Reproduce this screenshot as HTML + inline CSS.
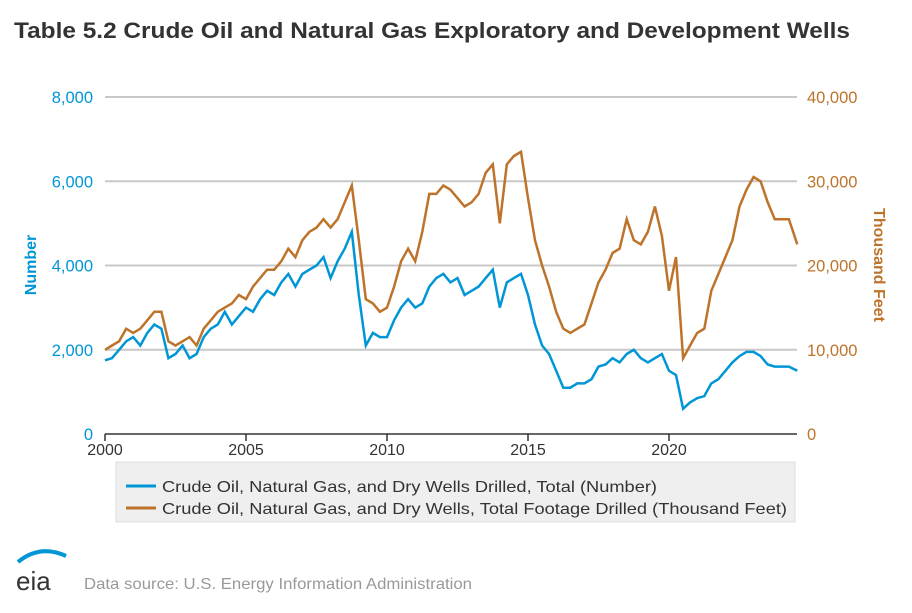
<!DOCTYPE html>
<html><head><meta charset="utf-8"><style>
body{margin:0;background:#fff;font-family:"Liberation Sans",Arial,sans-serif}
</style></head><body>
<svg width="912" height="608" xmlns="http://www.w3.org/2000/svg" font-family="Liberation Sans, Arial, sans-serif">
<text x="14" y="38" font-size="22" font-weight="bold" fill="#333" textLength="836" lengthAdjust="spacingAndGlyphs">Table 5.2 Crude Oil and Natural Gas Exploratory and Development Wells</text>
<g id="grid"></g>
<g id="axes"></g>
<g id="lines"></g>
<text transform="translate(36,265) rotate(-90)" text-anchor="middle" font-size="16" font-weight="bold" fill="#0096d6">Number</text>
<text transform="translate(874,265) rotate(90)" text-anchor="middle" font-size="16" font-weight="bold" fill="#bd732a">Thousand Feet</text>
<g>
<rect x="116" y="462" width="679" height="60" fill="#efefef" stroke="#ddd"/>
<line x1="126" y1="486" x2="156" y2="486" stroke="#0096d6" stroke-width="3"/>
<text x="162" y="492" font-size="16" fill="#333" textLength="495" lengthAdjust="spacingAndGlyphs">Crude Oil, Natural Gas, and Dry Wells Drilled, Total (Number)</text>
<line x1="126" y1="508" x2="156" y2="508" stroke="#bd732a" stroke-width="3"/>
<text x="162" y="514" font-size="16" fill="#333" textLength="625" lengthAdjust="spacingAndGlyphs">Crude Oil, Natural Gas, and Dry Wells, Total Footage Drilled (Thousand Feet)</text>
</g>
<g>
<path d="M18 562 Q40 544 66 556" stroke="#0096d6" stroke-width="4" fill="none"/>
<text x="16" y="590" font-size="26" fill="#333">eia</text>
</g>
<text x="84" y="589" font-size="16" fill="#999" textLength="388" lengthAdjust="spacingAndGlyphs">Data source: U.S. Energy Information Administration</text>
</svg>
<script>
const years=[2000,2000.25,2000.5,2000.75,2001,2001.25,2001.5,2001.75,2002,2002.25,2002.5,2002.75,2003,2003.25,2003.5,2003.75,2004,2004.25,2004.5,2004.75,2005,2005.25,2005.5,2005.75,2006,2006.25,2006.5,2006.75,2007,2007.25,2007.5,2007.75,2008,2008.25,2008.5,2008.75,2009,2009.25,2009.5,2009.75,2010,2010.25,2010.5,2010.75,2011,2011.25,2011.5,2011.75,2012,2012.25,2012.5,2012.75,2013,2013.25,2013.5,2013.75,2014,2014.25,2014.5,2014.75,2015,2015.25,2015.5,2015.75,2016,2016.25,2016.5,2016.75,2017,2017.25,2017.5,2017.75,2018,2018.25,2018.5,2018.75,2019,2019.25,2019.5,2019.75,2020,2020.25,2020.5,2020.75,2021,2021.25,2021.5,2021.75,2022,2022.25,2022.5,2022.75,2023,2023.25,2023.5,2023.75,2024,2024.25,2024.55];
const wells=[1750,1800,2000,2200,2300,2100,2400,2600,2500,1800,1900,2100,1800,1900,2300,2500,2600,2900,2600,2800,3000,2900,3200,3400,3300,3600,3800,3500,3800,3900,4000,4200,3700,4100,4400,4800,3300,2100,2400,2300,2300,2700,3000,3200,3000,3100,3500,3700,3800,3600,3700,3300,3400,3500,3700,3900,3000,3600,3700,3800,3300,2600,2100,1900,1500,1100,1100,1200,1200,1300,1600,1650,1800,1700,1900,2000,1800,1700,1800,1900,1500,1400,600,750,850,900,1200,1300,1500,1700,1850,1950,1950,1850,1650,1600,1600,1600,1500];
const footage=[10000,10500,11000,12500,12000,12500,13500,14500,14500,11000,10500,11000,11500,10500,12500,13500,14500,15000,15500,16500,16000,17500,18500,19500,19500,20500,22000,21000,23000,24000,24500,25500,24500,25500,27500,29500,23000,16000,15500,14500,15000,17500,20500,22000,20500,24000,28500,28500,29500,29000,28000,27000,27500,28500,31000,32000,25000,32000,33000,33500,28000,23000,20000,17500,14500,12500,12000,12500,13000,15500,18000,19500,21500,22000,25500,23000,22500,24000,27000,23500,17000,21000,9000,10500,12000,12500,17000,19000,21000,23000,27000,29000,30500,30000,27500,25500,25500,25500,22500];
const leftTicks=[0,2000,4000,6000,8000];
const rightTicks=[0,10000,20000,30000,40000];
const xTicks=[2000,2005,2010,2015,2020];
const NS="http://www.w3.org/2000/svg";
const x=v=>105+(v-2000)*28.2;
const yL=v=>434-v*337/8000;
const yR=v=>434-v*337/40000;
function mk(tag,attrs,parent,txt){const e=document.createElementNS(NS,tag);for(const k in attrs)e.setAttribute(k,attrs[k]);if(txt!==undefined)e.textContent=txt;document.getElementById(parent).appendChild(e);return e;}
leftTicks.forEach((t,i)=>{
 if(t>0){const g=mk('line',{x1:105,x2:797,y1:yL(t),y2:yL(t),stroke:'#c8c8c8','stroke-width':2},'grid');
 
 }
 const a=mk('text',{x:93,y:yL(t)+6,'text-anchor':'end','font-size':16.5,fill:'#0096d6'},'axes',t.toLocaleString('en-US'));
 
 
});
rightTicks.forEach(t=>{
 const a=mk('text',{x:807,y:yR(t)+6,'font-size':16.5,fill:'#bd732a'},'axes',t.toLocaleString('en-US'));
 
 
});
const ax=mk('line',{x1:105,x2:797,y1:434,y2:434,stroke:'#333','stroke-width':1.5},'axes');


xTicks.forEach(t=>{
 mk('line',{x1:x(t),x2:x(t),y1:434,y2:441,stroke:'#333','stroke-width':1.5},'axes');
 const a=mk('text',{x:x(t),y:455,'text-anchor':'middle','font-size':16,fill:'#333'},'axes',t);
 
 
});
const p1=mk('path',{d:years.map((v,i)=>(i?'L':'M')+x(v).toFixed(1)+' '+yR(footage[i]).toFixed(1)).join(''),fill:'none',stroke:'#bd732a','stroke-width':2.5},'lines');


const p2=mk('path',{d:years.map((v,i)=>(i?'L':'M')+x(v).toFixed(1)+' '+yL(wells[i]).toFixed(1)).join(''),fill:'none',stroke:'#0096d6','stroke-width':2.5},'lines');


</script>
</body></html>
